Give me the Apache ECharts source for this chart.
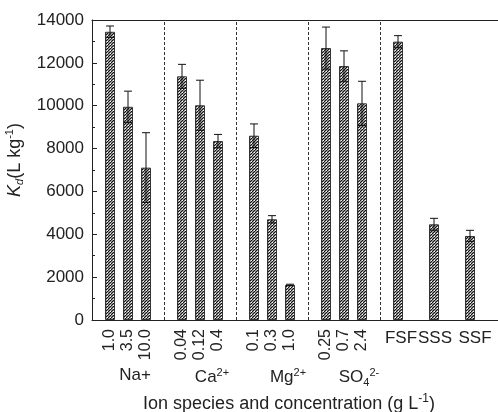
<!DOCTYPE html>
<html>
<head>
<meta charset="utf-8">
<script src="https://cdn.jsdelivr.net/npm/echarts@6/dist/echarts.min.js"></script>
<style>html,body{margin:0;padding:0;background:#fff}#c{width:498px;height:412px}</style>
</head>
<body>
<div id="c"></div>
<script>
// Category slots ('' = empty spacer slot)
const categories = ['', '1.0', '3.5', '10.0', '', '0.04', '0.12', '0.4', '', '0.1', '0.3', '1.0', '', '0.25', '0.7', '2.4', '', 'FSF', '', 'SSS', '', 'SSF', '', ''];
const horizontalLabels = {FSF: '{f|FSF}', SSS: '{s|SSS}', SSF: '{r|SSF}'};
const naKd = [13450, 9950, 7110];
const naErr = [270, 730, 1630];
const caKd = [11370, 10020, 8350];
const caErr = [560, 1170, 310];
const mgKd = [8600, 4700, 1640];
const mgErr = [550, 170, 30];
const so4Kd = [12690, 11850, 10110];
const so4Err = [980, 710, 1030];
const soilKd = [12990, 4465, 3920];
const soilErr = [280, 280, 265];
const separatorSlots = [4, 8, 12, 16];
const groupLabels = {2: '{na|Na+}', 6: '{ca|Ca}{sup|2+}', 10: '{mg|Mg}{sup|2+}', 14: '{so|SO}{sub|4}{sup|2-}'};
const yTicks = {min: 0, max: 14000, interval: 2000};

const allKd = [].concat(naKd, caKd, mgKd, so4Kd, soilKd);
const allErr = [].concat(naErr, caErr, mgErr, so4Err, soilErr);
const barData = [];
const errData = [];
let k = 0;
categories.forEach((c, i) => {
  if (c !== '') {
    barData.push(allKd[k]);
    errData.push([i, allKd[k] - allErr[k], allKd[k] + allErr[k]]);
    k++;
  } else {
    barData.push('-');
  }
});

// hatch pattern
const P = 3;
const pc = document.createElement('canvas');
pc.width = P; pc.height = P;
const g = pc.getContext('2d');
g.fillStyle = '#fff'; g.fillRect(0, 0, P, P);
g.strokeStyle = '#111'; g.lineWidth = 1.25;
g.beginPath();
g.moveTo(-1, P + 1); g.lineTo(P + 1, -1);
g.moveTo(-1 - P, P + 1); g.lineTo(1, -1);
g.moveTo(-1 + P, 2 * P + 1); g.lineTo(2 * P + 1, -1 + P);
g.stroke();

const FONT = 'Liberation Sans, Arial, sans-serif';
const C = '#222';
const chart = echarts.init(document.getElementById('c'));
chart.setOption({
  animation: false,
  backgroundColor: '#fff',
  grid: {left: 92, right: -8, top: 20, bottom: 92, containLabel: false, outerBoundsMode: 'none'},
  xAxis: [
    {
      type: 'category', data: categories, boundaryGap: false,
      axisLine: {lineStyle: {color: C, width: 1}},
      axisTick: {show: false},
      axisLabel: {
        rotate: 90, interval: 0, margin: 9, fontSize: 16, color: C, fontFamily: FONT,
        formatter: v => horizontalLabels[v] ? '' : v
      },
      splitLine: {show: false}
    },
    {
      type: 'category', data: categories, boundaryGap: false, position: 'bottom',
      axisLine: {show: false}, axisTick: {show: false},
      axisLabel: {
        interval: 0, margin: 10, color: C, fontFamily: FONT,
        formatter: v => horizontalLabels[v] || '',
        rich: {
          f: {fontSize: 17, fontFamily: FONT, color: C, padding: [0, 0, 0, 6]},
          s: {fontSize: 17, fontFamily: FONT, color: C, padding: [0, 0, 0, 2]},
          r: {fontSize: 17, fontFamily: FONT, color: C, padding: [0, 0, 0, 10]}
        }
      }
    },
    {
      type: 'category', data: categories.map((c, i) => String(i)), boundaryGap: false, position: 'bottom',
      axisLine: {show: false}, axisTick: {show: false},
      axisLabel: {
        interval: 0, margin: 47, color: C, fontFamily: FONT,
        formatter: v => groupLabels[v] || '',
        rich: {
          na: {fontSize: 17, fontFamily: FONT, color: C, padding: [0, 0, 0, 14]},
          ca: {fontSize: 17, fontFamily: FONT, color: C, padding: [0, 0, 0, 24]},
          mg: {fontSize: 17, fontFamily: FONT, color: C, padding: [0, 0, 0, 32]},
          so: {fontSize: 17, fontFamily: FONT, color: C, padding: [0, 0, 0, 30]},
          sup: {fontSize: 11, fontFamily: FONT, color: C, verticalAlign: 'top', padding: [0, 0, 10, 0]},
          sub: {fontSize: 11, fontFamily: FONT, color: C, verticalAlign: 'bottom', padding: [10, 0, 0, 0]}
        }
      },
      name: '{t|Ion species and concentration (g L}{s|-1}{t|)}',
      nameLocation: 'middle', nameGap: 72,
      nameTextStyle: {
        padding: [0, 20, 0, 0],
        rich: {
          t: {fontSize: 18, fontFamily: FONT, color: C},
          s: {fontSize: 12, fontFamily: FONT, color: C, verticalAlign: 'top', padding: [0, 0, 10, 0]}
        }
      }
    },
    {
      type: 'category', data: categories, boundaryGap: false, position: 'top',
      axisLine: {lineStyle: {color: C, width: 1}}, axisTick: {show: false}, axisLabel: {show: false}
    }
  ],
  yAxis: {
    type: 'value', min: yTicks.min, max: yTicks.max, interval: yTicks.interval,
    axisLine: {show: true, lineStyle: {color: C, width: 1}},
    axisTick: {show: true, inside: true, length: 5, lineStyle: {color: C}},
    minorTick: {show: true, splitNumber: 2, length: 3, lineStyle: {color: C}},
    splitLine: {show: false},
    axisLabel: {fontSize: 17, color: C, fontFamily: FONT, margin: 8, formatter: v => String(v)},
    name: '{k|K}{d|d}{t|(L kg}{s|-1}{t|)}',
    nameLocation: 'middle', nameRotate: 90, nameGap: 56,
    nameTextStyle: {
      padding: [0, 0, 0, 20],
      rich: {
        k: {fontSize: 18, fontFamily: FONT, color: C, fontStyle: 'italic'},
        d: {fontSize: 11, fontFamily: FONT, color: C, fontStyle: 'italic', verticalAlign: 'bottom', padding: [8, 0, 0, 0]},
        t: {fontSize: 18, fontFamily: FONT, color: C},
        s: {fontSize: 11, fontFamily: FONT, color: C, verticalAlign: 'top', padding: [0, 0, 10, 0]}
      }
    }
  },
  series: [
    {
      type: 'bar', data: barData, barWidth: 10,
      itemStyle: {color: {image: pc, repeat: 'repeat'}, borderColor: '#333', borderWidth: 1},
      markLine: {
        silent: true, symbol: 'none', label: {show: false},
        lineStyle: {type: [3, 2], color: '#333', width: 1},
        data: separatorSlots.map(s => ({xAxis: s}))
      }
    },
    {
      type: 'custom', data: errData, encode: {x: 0, y: [1, 2]}, z: 5,
      renderItem: (params, api) => {
        const x = api.value(0);
        const lo = api.coord([x, api.value(1)]);
        const hi = api.coord([x, api.value(2)]);
        const w = 4;
        const st = {stroke: '#111', lineWidth: 1};
        return {type: 'group', children: [
          {type: 'line', shape: {x1: lo[0], y1: lo[1], x2: hi[0], y2: hi[1]}, style: st},
          {type: 'line', shape: {x1: hi[0] - w, y1: hi[1], x2: hi[0] + w, y2: hi[1]}, style: st},
          {type: 'line', shape: {x1: lo[0] - w, y1: lo[1], x2: lo[0] + w, y2: lo[1]}, style: st}
        ]};
      }
    }
  ]
});
</script>
</body>
</html>
